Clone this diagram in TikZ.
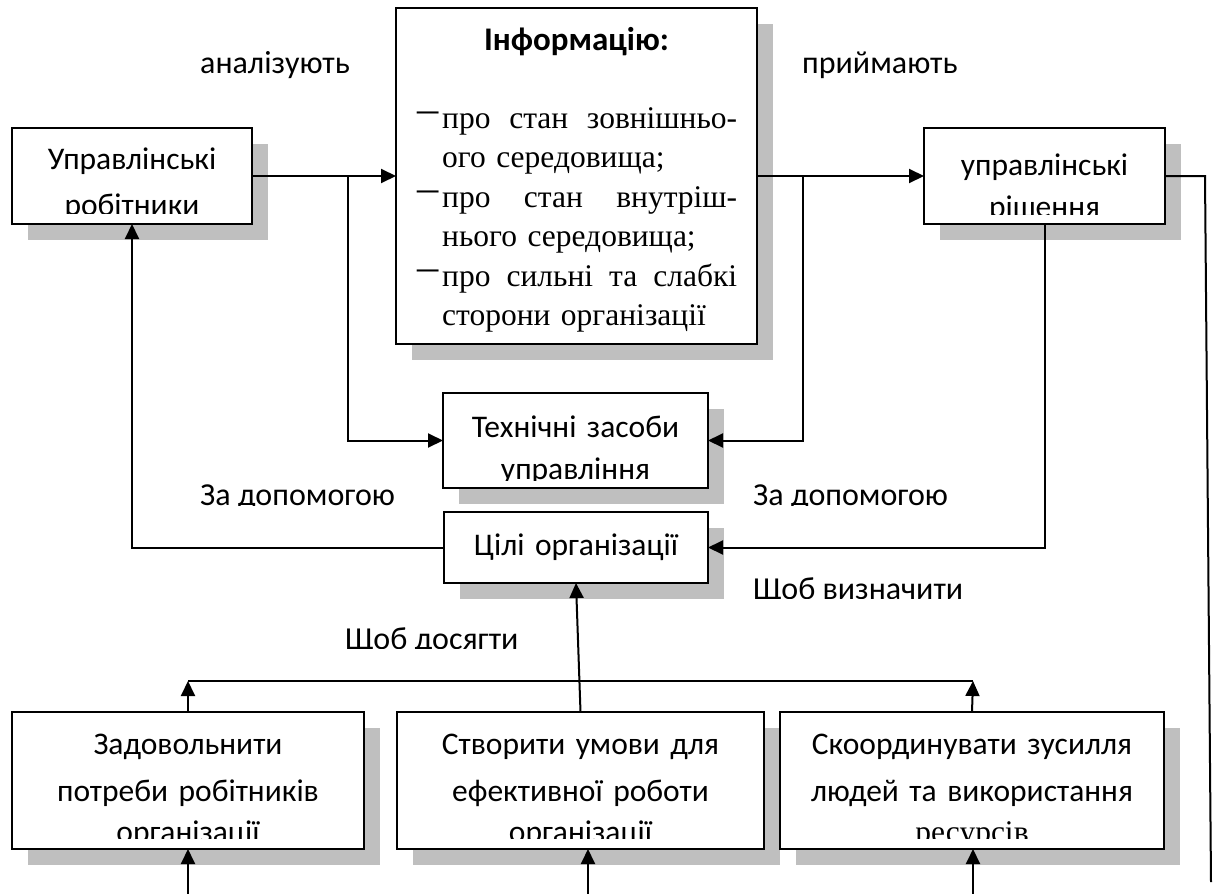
\documentclass[tikz,border=0pt]{standalone}
\usepackage{fontspec}
\usepackage{graphicx}
\setmainfont{Carlito}
\newfontfamily\seriffont{Liberation Serif}
\usetikzlibrary{arrows.meta,shadows}
\definecolor{shadowgray}{RGB}{191,191,191}
\newcommand\itemdash{\makebox[25pt][l]{\raisebox{5.5pt}{\scalebox{1.35}[1.3]{–}}}}
\newcommand\fullline[1]{\makebox[320pt][l]{#1}}

\begin{document}
\begin{tikzpicture}[x=1pt,y=-1pt,
  blk/.style={draw, fill=white, line width=2pt, inner sep=0pt, outer sep=0pt,
    drop shadow={shadow xshift=16pt, shadow yshift=-16pt, fill=shadowgray, opacity=1}},
  conn/.style={line width=2pt},
  arr/.style={conn, -{Triangle[length=15pt,width=14pt]}},
  boxtxt/.style={inner sep=0pt, align=center, font=\fontsize{31.5}{47}\selectfont, anchor=base},
  lbl/.style={inner sep=0pt, font=\fontsize{32}{38}\selectfont, anchor=base west}]

\useasboundingbox[fill=white] (0,0) rectangle (1216,894);

% boxes
\node[blk, minimum width=240pt, minimum height=96pt]  (workers)  at (132,176) {};
\node[blk, minimum width=361pt, minimum height=336pt] (info)     at (576.5,176) {};
\node[blk, minimum width=241pt, minimum height=96pt]  (decision) at (1044.5,176) {};
\node[blk, minimum width=265pt, minimum height=95pt]  (tech)     at (575.5,440.5) {};
\node[blk, minimum width=264pt, minimum height=71pt]  (goals)    at (576,547.5) {};
\node[blk, minimum width=352pt, minimum height=137pt] (needs)    at (188,780.5) {};
\node[blk, minimum width=367pt, minimum height=137pt] (conds)    at (580.5,780.5) {};
\node[blk, minimum width=384pt, minimum height=137pt] (coord)    at (972,780.5) {};

% junctions and free ends
\coordinate (jl) at (348,176);
\coordinate (jr) at (803,176);
\coordinate (jd) at (1205,176);
\coordinate (rightend) at (1211,882);
\coordinate (busL) at (188,681);
\coordinate (busR) at (973,681);
\coordinate (inA) at (188,894);
\coordinate (inB) at (588,894);
\coordinate (inC) at (973,894);

% connectors
\draw[arr] (workers.east) -- (info.west);
\draw[arr] (jl) |- (tech.west);
\draw[arr] (info.east) -- (decision.west);
\draw[arr] (jr) |- (tech.east);
\draw[conn] (decision.east) -- (jd) -- (rightend);
\draw[arr] (decision.south) |- (goals.east);
\draw[arr] (goals.west) -| (workers.south);
\draw[arr] (conds.north) -- (goals.south);
\draw[conn] (busL) -- (busR);
\draw[arr] (needs.north) -- (busL);
\draw[arr] (coord.north) -- (busR);
\draw[arr] (inA) -- (inA |- needs.south);
\draw[arr] (inB) -- (inB |- conds.south);
\draw[arr] (inC) -- (inC |- coord.south);

% box texts (last lines are cut by the box edge)
\begin{scope}
  \clip (12,128) rectangle (252,213);
  \node[boxtxt, text width=240pt] (workerstxt) at (132,169) {Управлінські\\[-0.5pt]робітники};
\end{scope}
\begin{scope}
  \clip (924,128) rectangle (1165,214);
  \node[boxtxt, text width=241pt] (decisiontxt) at (1044.5,175) {управлінські\\[-5pt]рішення};
\end{scope}
\begin{scope}
  \clip (443,393) rectangle (708,480);
  \node[boxtxt, text width=265pt] (techtxt) at (575.5,437) {Технічні засоби\\[-5pt]управління};
\end{scope}
\node[boxtxt, text width=264pt] (goalstxt) at (576,555) {Цілі організації};
\begin{scope}
  \clip (12,712) rectangle (1164,838);
  \node[boxtxt, text width=352pt] (needstxt) at (188,754) {Задовольнити\\потреби робітників\\[-5.5pt]організації};
  \node[boxtxt, text width=367pt] (condstxt) at (580.5,754) {Створити умови для\\ефективної роботи\\[-5.5pt]організації};
  \node[boxtxt, text width=384pt] (coordtxt) at (972,754) {Скоординувати зусилля\\людей та використання\\[-5.5pt]{\seriffont ресурсів}};
\end{scope}

% information box
\node[inner sep=0pt, anchor=base, font=\bfseries\fontsize{33}{38}\selectfont] (infotitle) at (576.5,50) {Інформацію:};
\node[inner sep=0pt, anchor=base west, text width=320pt, align=left,
      font=\seriffont\fontsize{31.5}{39.5}\selectfont] (infotxt) at (417,128) {%
  \fullline{\itemdash про\hfill стан\hfill зовнішньо-}\\
  \hspace*{25pt}ого середовища;\\
  \fullline{\itemdash про\hfill стан\hfill внутріш-}\\
  \hspace*{25pt}нього середовища;\\
  \fullline{\itemdash про\hfill сильні\hfill та\hfill слабкі}\\
  \hspace*{25pt}сторони організації};

% connector labels
\node[lbl] (lanalyse) at (200,73) {аналізують};
\node[lbl] (ltake) at (802,73) {приймають};
\begin{scope}
  \clip (150,460) rectangle (1000,505);
  \node[lbl] (lhelpL) at (200,505) {За допомогою};
  \node[lbl] (lhelpR) at (753,505) {За допомогою};
\end{scope}
\begin{scope}
  \clip (700,570) rectangle (1000,598);
  \node[lbl] (ldefine) at (753,599) {Щоб визначити};
\end{scope}
\begin{scope}
  \clip (300,615) rectangle (600,648);
  \node[lbl] (lreach) at (345,649) {Щоб досягти};
\end{scope}
\end{tikzpicture}
\end{document}
